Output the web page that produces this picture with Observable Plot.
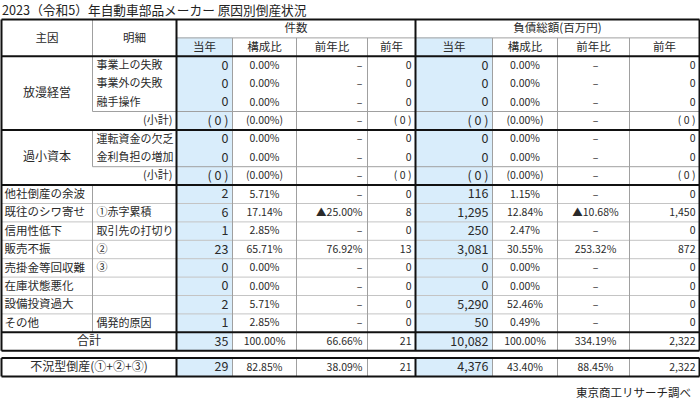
<!DOCTYPE html>
<html>
<head>
<meta charset="utf-8">
<script src="https://cdn.jsdelivr.net/npm/d3@7"></script>
<script src="https://cdn.jsdelivr.net/npm/@observablehq/plot@0.6"></script>
<style>
  html, body { margin: 0; padding: 0; background: #fff; }
  body { width: 700px; height: 404px; overflow: hidden; font-family: "Noto Sans CJK JP", "Noto Sans", sans-serif; color: #222; }
  #title { height: 18px; line-height: 20px; font-size: 12.7px; padding-left: 2px; white-space: nowrap; }
  #chart svg { display: block; }
  #footer { height: 24px; line-height: 24px; font-size: 11.5px; text-align: right; padding-right: 9px; }
</style>
</head>
<body>
<div id="title">2023（令和5）年自動車部品メーカー 原因別倒産状況</div>
<div id="chart"></div>
<div id="footer">東京商工リサーチ調べ</div>
<script>
// ---- data ----
const keyHeaders = ["主因", "明細"];
const groupHeaders = ["件数", "負債総額(百万円)"];
const subHeaders = ["当年", "構成比", "前年比", "前年"];

const cause = ["放漫経営","放漫経営","放漫経営","放漫経営","過小資本","過小資本","過小資本",
  "他社倒産の余波","既往のシワ寄せ","信用性低下","販売不振","売掛金等回収難","在庫状態悪化",
  "設備投資過大","その他","合計","不況型倒産(①+②+③)"];
const detail = ["事業上の失敗","事業外の失敗","融手操作","(小計)","運転資金の欠乏","金利負担の増加","(小計)",
  "","①赤字累積","取引先の打切り","②","③","","","偶発的原因","",""];
const countCur   = [0,0,0,0,0,0,0, 2,6,1,23,0,0,2,1, 35,29];
const countShare = [0,0,0,0,0,0,0, 5.71,17.14,2.85,65.71,0,0,5.71,2.85, 100,82.85];
const countYoY   = [null,null,null,null,null,null,null, null,-25.00,null,76.92,null,null,null,null, 66.66,38.09];
const countPrev  = [0,0,0,0,0,0,0, 0,8,0,13,0,0,0,0, 21,21];
const debtCur    = [0,0,0,0,0,0,0, 116,1295,250,3081,0,0,5290,50, 10082,4376];
const debtShare  = [0,0,0,0,0,0,0, 1.15,12.84,2.47,30.55,0,0,52.46,0.49, 100,43.40];
const debtYoY    = [null,null,null,null,null,null,null, null,-10.68,null,253.32,null,null,null,null, 334.19,88.45];
const debtPrev   = [0,0,0,0,0,0,0, 0,1450,0,872,0,0,0,0, 2322,2322];
const totalLabels = ["合計", "不況型倒産(①+②+③)"];

// ---- layout ----
const edges = [1, 92, 176, 232, 296, 367, 415, 492, 557, 629, 699];
const lastGap = 0.4;
const rows = cause.map((c, i) => ({
  i, cause: c, detail: detail[i],
  pos: i < 16 ? i : i + lastGap,
  sub: detail[i] === "(小計)",
  total: totalLabels.includes(c),
  countCur: countCur[i], countShare: countShare[i], countYoY: countYoY[i], countPrev: countPrev[i],
  debtCur: debtCur[i], debtShare: debtShare[i], debtYoY: debtYoY[i], debtPrev: debtPrev[i]
}));
const nMain = 16;
const lastTop = nMain + lastGap, lastBot = lastTop + 1;

const num = d3.format(",");
const fNum = (v, sub) => sub ? `( ${num(v)} )` : num(v);
const fPct = (v, sub) => sub ? `(${v.toFixed(2)}%)` : `${v.toFixed(2)}%`;
const fYoY = v => v == null ? "–" : (v < 0 ? "▲" + Math.abs(v).toFixed(2) + "%" : v.toFixed(2) + "%");

// groups of merged cause cells
const groups = [];
rows.forEach(r => {
  if (r.total) return;
  const g = groups[groups.length - 1];
  if (g && g.label === r.cause) g.end = r.pos + 1;
  else groups.push({label: r.cause, start: r.pos, end: r.pos + 1});
});
const merged = groups.filter(g => g.end - g.start > 1);
const single = groups.filter(g => g.end - g.start === 1);

// line definitions
const thick = [], thin = [], faint = [];
[-2, 0, 4, 7, 15, 16, lastTop, lastBot].forEach(y => thick.push({x1: edges[0], x2: edges[10], y1: y, y2: y}));
thin.push({x1: edges[2], x2: edges[10], y1: -1, y2: -1});
rows.filter(r => r.sub).forEach(r => thin.push({x1: edges[1], x2: edges[10], y1: r.pos, y2: r.pos}));
for (let y = 8; y < 15; y++) faint.push({x1: edges[0], x2: edges[10], y1: y, y2: y});
[0, 2, 6, 10].forEach(k => {
  thick.push({x1: edges[k], x2: edges[k], y1: -2, y2: nMain});
  thick.push({x1: edges[k], x2: edges[k], y1: lastTop, y2: lastBot});
});
[3, 4, 5, 7, 8, 9].forEach(k => {
  thin.push({x1: edges[k], x2: edges[k], y1: -1, y2: nMain});
  thin.push({x1: edges[k], x2: edges[k], y1: lastTop, y2: lastBot});
});
[[-2, 0], [0, 3], [4, 6], [7, 15]].forEach(([a, b]) => thin.push({x1: edges[1], x2: edges[1], y1: a, y2: b}));

const fills = [];
[3, 7].forEach(k => {
  fills.push({x1: edges[k - 1], x2: edges[k], y1: -1, y2: nMain});
  fills.push({x1: edges[k - 1], x2: edges[k], y1: lastTop, y2: lastBot});
});

const unit = 18.4;
const y0 = -2 - 1 / unit;
const H = 362;
const mid = k => (edges[k] + edges[k + 1]) / 2;
const cy = d => d.pos + 0.5;

const headerCells = [
  {x: mid(0), y: -1, t: keyHeaders[0]},
  {x: mid(1), y: -1, t: keyHeaders[1]},
  {x: (edges[2] + edges[6]) / 2, y: -1.5, t: groupHeaders[0]},
  {x: (edges[6] + edges[10]) / 2, y: -1.5, t: groupHeaders[1]},
  ...subHeaders.map((t, j) => ({x: mid(2 + j), y: -0.5, t})),
  ...subHeaders.map((t, j) => ({x: mid(6 + j), y: -0.5, t}))
];

const txt = {fill: "#2a2a2a", fontFamily: "Noto Sans CJK JP"};
const plot = Plot.plot({
  width: 700, height: H, margin: 0,
  x: {type: "linear", domain: [0, 700], range: [0, 700], axis: null},
  y: {type: "linear", domain: [y0, y0 + H / unit], range: [0, H], axis: null},
  style: {fontFamily: "Noto Sans CJK JP", background: "#fff"},
  marks: [
    Plot.rect(fills, {x1: "x1", x2: "x2", y1: "y1", y2: "y2", fill: "#d9edfb"}),
    Plot.link(faint, {x1: "x1", x2: "x2", y1: "y1", y2: "y2", stroke: "#c4c4c4", strokeWidth: 1}),
    Plot.link(thin, {x1: "x1", x2: "x2", y1: "y1", y2: "y2", stroke: "#a0a0a0", strokeWidth: 1}),
    Plot.link(thick, {x1: "x1", x2: "x2", y1: "y1", y2: "y2", stroke: "#111", strokeWidth: 2}),
    Plot.text(headerCells, {x: "x", y: "y", text: "t", fontSize: 11.5, ...txt}),
    Plot.text(merged, {x: () => mid(0), y: g => (g.start + g.end) / 2, text: "label", fontSize: 12, ...txt}),
    Plot.text(single, {x: () => edges[0] + 3, y: g => g.start + 0.5, text: "label", textAnchor: "start", fontSize: 11.5, ...txt}),
    Plot.text(rows.filter(r => r.total), {x: () => (edges[0] + edges[2]) / 2, y: cy, text: "cause", fontSize: 12, ...txt}),
    Plot.text(rows.filter(r => !r.sub && !r.total), {x: () => edges[1] + 4, y: cy, text: "detail", textAnchor: "start", fontSize: 11, ...txt}),
    Plot.text(rows.filter(r => r.sub), {x: () => edges[2] - 4, y: cy, text: "detail", textAnchor: "end", fontSize: 11, ...txt}),
    Plot.text(rows, {x: () => edges[3] - 4, y: cy, text: d => fNum(d.countCur, d.sub), textAnchor: "end", fontSize: 12.5, ...txt}),
    Plot.text(rows, {x: () => mid(3), y: cy, text: d => fPct(d.countShare, d.sub), fontSize: 10.5, ...txt}),
    Plot.text(rows, {x: () => edges[5] - 5, y: cy, text: d => fYoY(d.countYoY), textAnchor: "end", fontSize: 10.5, ...txt}),
    Plot.text(rows, {x: () => edges[6] - 4, y: cy, text: d => fNum(d.countPrev, d.sub), textAnchor: "end", fontSize: 10.5, ...txt}),
    Plot.text(rows, {x: () => edges[7] - 4, y: cy, text: d => fNum(d.debtCur, d.sub), textAnchor: "end", fontSize: 12.5, ...txt}),
    Plot.text(rows, {x: () => mid(7), y: cy, text: d => fPct(d.debtShare, d.sub), fontSize: 10.5, ...txt}),
    Plot.text(rows, {x: () => mid(8) + 2, y: cy, text: d => fYoY(d.debtYoY), fontSize: 10.5, ...txt}),
    Plot.text(rows, {x: () => edges[10] - 4, y: cy, text: d => fNum(d.debtPrev, d.sub), textAnchor: "end", fontSize: 10.5, ...txt})
  ]
});
document.getElementById("chart").append(plot);
</script>
</body>
</html>
